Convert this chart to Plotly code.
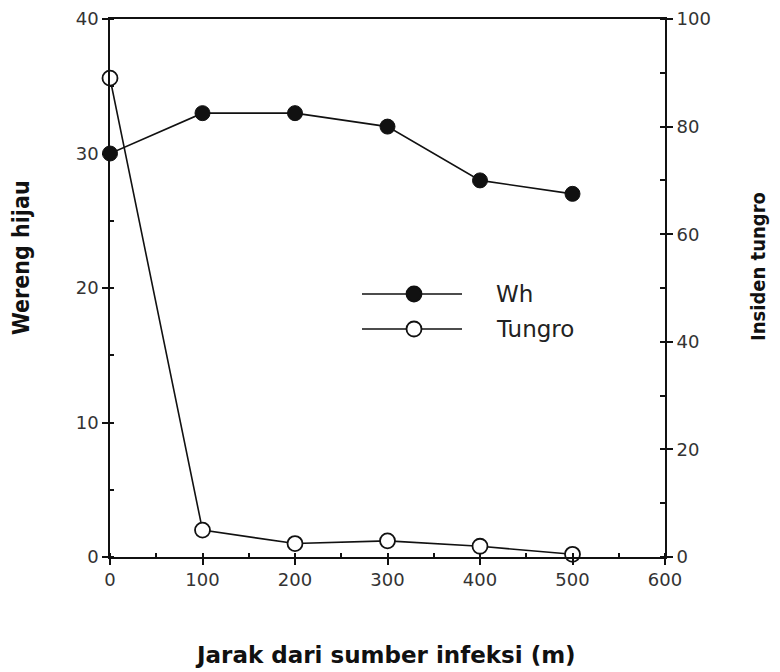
import plotly.graph_objects as go

# Data
jarak = [0, 100, 200, 300, 400, 500]
wh = [30, 33, 33, 32, 28, 27]
tungro = [89, 5, 2.5, 3, 2, 0.5]

x_ticks = [0, 100, 200, 300, 400, 500, 600]
y_left_ticks = [0, 10, 20, 30, 40]
y_right_ticks = [0, 20, 40, 60, 80, 100]

INK = "#111111"
TICKFONT = dict(family="DejaVu Sans", size=18, color="#333333")

# The page body adds an 8px offset, so the figure is sized to fit the window.
OFF = 8
W, H = 780 - OFF, 672 - OFF
# Plot area in page pixels: x 110..665, y 19..557
L, R, T, B = 110 - OFF, 665 - OFF, 19 - OFF, 557 - OFF

def px(xp):
    return (xp - OFF - L) / (R - L)
def py(yp):
    return (B - (yp - OFF)) / (B - T)

fig = go.Figure()
fig.add_trace(go.Scatter(
    x=jarak, y=tungro, yaxis="y2", name="Tungro", mode="lines+markers",
    line=dict(color=INK, width=1.6),
    marker=dict(symbol="circle", size=15, color="white", line=dict(color=INK, width=1.8)),
    cliponaxis=False, showlegend=False,
))
fig.add_trace(go.Scatter(
    x=jarak, y=wh, yaxis="y", name="Wh", mode="lines+markers",
    line=dict(color=INK, width=1.6),
    marker=dict(symbol="circle", size=15, color=INK, line=dict(color=INK, width=1)),
    cliponaxis=False, showlegend=False,
))

shapes = []
annotations = []
legend_rows = [("Wh", 294, INK), ("Tungro", 329, "white")]
for label, ypix, fill in legend_rows:
    shapes.append(dict(type="line", xref="paper", yref="paper",
                       x0=px(362), x1=px(462), y0=py(ypix), y1=py(ypix),
                       line=dict(color=INK, width=1.5)))
    shapes.append(dict(type="circle", xref="paper", yref="paper",
                       xsizemode="pixel", ysizemode="pixel",
                       xanchor=px(414), yanchor=py(ypix),
                       x0=-7.5, x1=7.5, y0=-7.5, y1=7.5,
                       fillcolor=fill, line=dict(color=INK, width=1.8)))
    annotations.append(dict(text=label, xref="paper", yref="paper",
                            x=px(494), y=py(ypix), xanchor="left", yanchor="middle",
                            showarrow=False,
                            font=dict(family="DejaVu Sans", size=23, color="#222222")))

annotations.append(dict(text="<b>Jarak dari sumber infeksi (m)</b>", xref="paper", yref="paper",
                        x=px(385), y=py(655), xanchor="center", yanchor="middle", showarrow=False,
                        font=dict(family="DejaVu Sans", size=23, color="#111111")))
annotations.append(dict(text="<b>Wereng hijau</b>", xref="paper", yref="paper",
                        x=px(21), y=py(258), xanchor="center", yanchor="middle", showarrow=False,
                        textangle=-90,
                        font=dict(family="DejaVu Sans Condensed", size=23, color="#111111")))
annotations.append(dict(text="<b>Insiden tungro</b>", xref="paper", yref="paper",
                        x=px(758), y=py(267), xanchor="center", yanchor="middle", showarrow=False,
                        textangle=-90,
                        font=dict(family="DejaVu Sans Condensed", size=20, color="#111111")))

fig.update_layout(
    width=W, height=H,
    margin=dict(l=L, r=W - R, t=T, b=H - B, pad=0, autoexpand=False),
    plot_bgcolor="white", paper_bgcolor="white",
    showlegend=False,
    xaxis=dict(range=[0, 600], tickvals=x_ticks, ticks="outside", ticklen=6, tickwidth=1.5,
               tickcolor=INK, showline=True, linecolor=INK, linewidth=1.5, mirror=True,
               showgrid=False, zeroline=False, tickfont=TICKFONT, automargin=False,
               ticklabeloverflow="allow",
               minor=dict(dtick=50, tick0=0, ticks="inside", ticklen=4, tickcolor=INK, showgrid=False)),
    yaxis=dict(range=[0, 40], tickvals=y_left_ticks, ticks="outside", ticklen=6, tickwidth=1.5,
               tickcolor=INK, showline=True, linecolor=INK, linewidth=1.5, automargin=False,
               showgrid=False, zeroline=False, tickfont=TICKFONT, ticklabeloverflow="allow",
               minor=dict(dtick=5, tick0=0, ticks="inside", ticklen=4, tickcolor=INK, showgrid=False)),
    yaxis2=dict(range=[0, 100], tickvals=y_right_ticks, overlaying="y", side="right",
                ticks="outside", ticklen=6, tickwidth=1.5, tickcolor=INK, automargin=False,
                showline=True, linecolor=INK, linewidth=2, ticklabeloverflow="allow",
                showgrid=False, zeroline=False, tickfont=TICKFONT,
                minor=dict(dtick=10, tick0=0, ticks="inside", ticklen=5, tickcolor=INK, showgrid=False)),
    shapes=shapes,
    annotations=annotations,
)

fig.write_html("out.html")
